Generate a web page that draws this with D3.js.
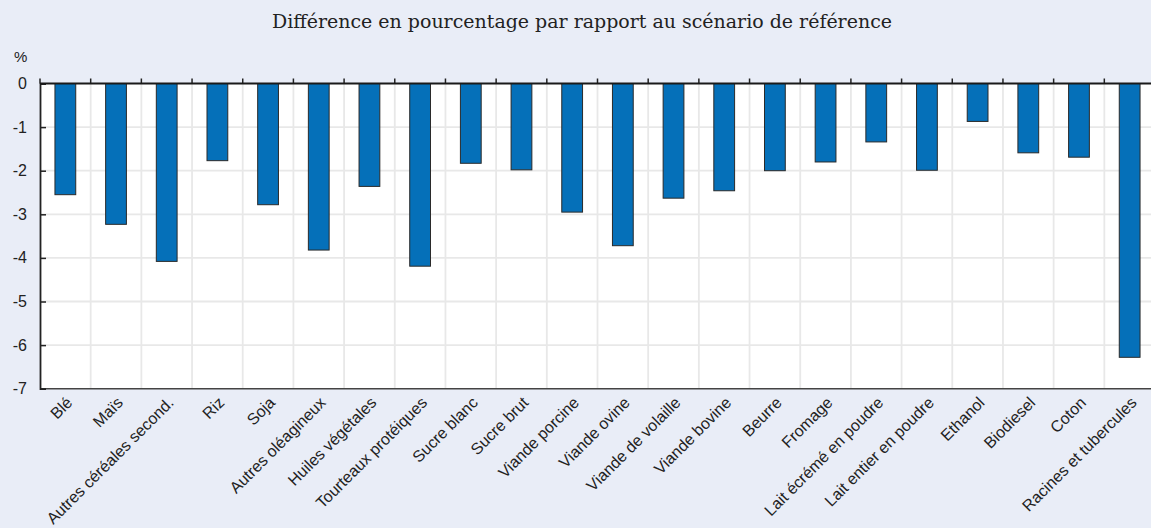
<!DOCTYPE html>
<html>
<head>
<meta charset="utf-8">
<script src="https://cdn.jsdelivr.net/npm/d3@7"></script>
<style>
  body { margin: 0; background: #e9edf7; }
  svg { display: block; }
</style>
</head>
<body>
<div id="chart"></div>
<script>
// categories and values (% difference vs. baseline)
var categories = ["Blé", "Maïs", "Autres céréales second.", "Riz", "Soja", "Autres oléagineux",
  "Huiles végétales", "Tourteaux protéiques", "Sucre blanc", "Sucre brut", "Viande porcine",
  "Viande ovine", "Viande de volaille", "Viande bovine", "Beurre", "Fromage",
  "Lait écrémé en poudre", "Lait entier en poudre", "Ethanol", "Biodiesel", "Coton",
  "Racines et tubercules"];
var values = [-2.55, -3.23, -4.08, -1.77, -2.78, -3.82, -2.36, -4.19, -1.83, -1.98, -2.95,
  -3.72, -2.63, -2.46, -2.0, -1.80, -1.34, -1.99, -0.87, -1.59, -1.69, -6.28];
var yTicks = [0, -1, -2, -3, -4, -5, -6, -7];

var subtitle = "Différence en pourcentage par rapport au scénario de référence";

window.w = 1151;
window.h = 528;

var left = 40, right = 1155, top0 = 83.5, bottom = 388.7;

var svg = d3.select("#chart").append("svg")
  .attr("width", w)
  .attr("height", h);

svg.append("rect").attr("width", w).attr("height", h).attr("fill", "#e9edf7");

svg.append("text")
  .attr("x", 582)
  .attr("y", 28)
  .attr("text-anchor", "middle")
  .attr("textLength", 620)
  .attr("lengthAdjust", "spacingAndGlyphs")
  .style("font-family", "'DejaVu Serif', 'Liberation Serif', serif")
  .style("font-size", "18px")
  .attr("fill", "#222")
  .text(subtitle);

var xScale = d3.scaleBand()
  .domain(categories)
  .range([left, right])
  .paddingInner(0)
  .paddingOuter(0);

var yScale = d3.scaleLinear()
  .domain([-7, 0])
  .range([bottom, top0]);

// plot background
svg.append("rect")
  .attr("x", left)
  .attr("y", top0)
  .attr("width", right - left)
  .attr("height", bottom - top0)
  .attr("fill", "#ffffff");

// horizontal grid
svg.selectAll(".hgrid")
  .data(yTicks.filter(function(d) { return d != 0 && d != -7; }))
  .enter().append("line")
  .attr("x1", left).attr("x2", right)
  .attr("y1", function(d) { return yScale(d); })
  .attr("y2", function(d) { return yScale(d); })
  .attr("stroke", "#e8e8e8")
  .attr("stroke-width", 1.8);

// vertical grid at band boundaries
var bounds = categories.slice(1).map(function(c) { return xScale(c); });
svg.selectAll(".vgrid")
  .data(bounds)
  .enter().append("line")
  .attr("x1", function(d) { return d; })
  .attr("x2", function(d) { return d; })
  .attr("y1", top0).attr("y2", bottom)
  .attr("stroke", "#e8e8e8")
  .attr("stroke-width", 1.8);

// bars
var bw = xScale.bandwidth() * 0.41;
svg.selectAll(".bar")
  .data(values)
  .enter().append("rect")
  .attr("x", function(d, i) { return xScale(categories[i]) + xScale.bandwidth() / 2 - bw / 2; })
  .attr("y", yScale(0))
  .attr("width", bw)
  .attr("height", function(d) { return yScale(d) - yScale(0); })
  .attr("fill", "#0570b9")
  .attr("stroke", "#2a2a2a")
  .attr("stroke-width", 1);

// bottom line
svg.append("line")
  .attr("x1", left).attr("x2", right)
  .attr("y1", bottom).attr("y2", bottom)
  .attr("stroke", "#444")
  .attr("stroke-width", 1.5);

// y axis (ticks pointing inward)
var yAxis = d3.axisRight(yScale)
  .tickValues(yTicks)
  .tickSize(6)
  .tickFormat("");
var ga = svg.append("g")
  .attr("transform", "translate(" + left + ",0)")
  .call(yAxis);
ga.select(".domain").attr("stroke", "#222").attr("stroke-width", 1.8);
ga.selectAll(".tick line").attr("stroke", "#222").attr("stroke-width", 1.5);

svg.selectAll(".ylab")
  .data(yTicks)
  .enter().append("text")
  .attr("x", 27)
  .attr("y", function(d) { return yScale(d) + 5.5; })
  .attr("text-anchor", "end")
  .style("font-family", "'Liberation Sans', Arial, sans-serif")
  .style("font-size", "16px")
  .attr("fill", "#222")
  .text(function(d) { return d; });

svg.append("text")
  .attr("x", 14)
  .attr("y", 62)
  .style("font-family", "'Liberation Sans', Arial, sans-serif")
  .style("font-size", "15px")
  .attr("fill", "#222")
  .text("%");

// small ticks on the zero line at category boundaries
svg.selectAll(".ztick")
  .data([left].concat(bounds))
  .enter().append("line")
  .attr("x1", function(d) { return d; })
  .attr("x2", function(d) { return d; })
  .attr("y1", yScale(0) - 5).attr("y2", yScale(0))
  .attr("stroke", "#222")
  .attr("stroke-width", 1.5);
svg.append("line")
  .attr("x1", left).attr("x2", right)
  .attr("y1", yScale(0)).attr("y2", yScale(0))
  .attr("stroke", "#1a1a1a")
  .attr("stroke-width", 2.2);

// category labels
svg.selectAll(".xlab")
  .data(categories)
  .enter().append("text")
  .attr("transform", function(d) {
    var x = xScale(d) + xScale.bandwidth() / 2 + 8;
    return "translate(" + x + "," + (bottom + 15) + ") rotate(-45)";
  })
  .attr("text-anchor", "end")
  .style("font-family", "'Liberation Sans', Arial, sans-serif")
  .style("font-size", "16px")
  .attr("fill", "#222")
  .text(function(d) { return d; });
</script>
</body>
</html>
